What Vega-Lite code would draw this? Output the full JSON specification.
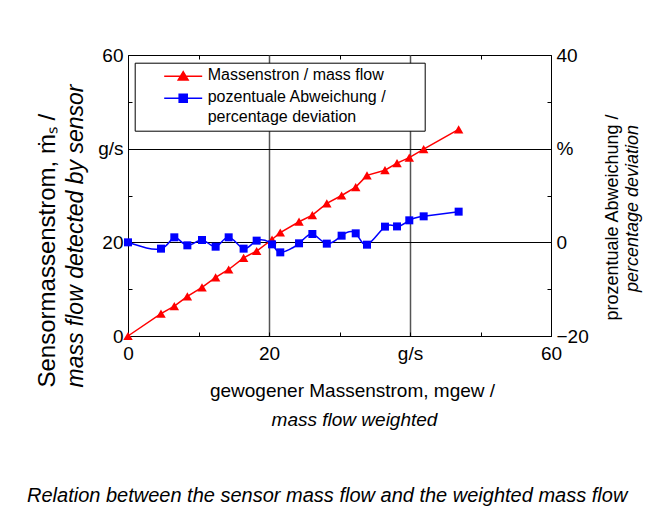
{
  "$schema": "https://vega.github.io/schema/vega-lite/v6.json",
  "width": 423,
  "height": 281,
  "autosize": {"type": "none"},
  "padding": {"left": 128, "top": 55, "right": 100, "bottom": 186},
  "background": "white",
  "title": {
    "text": "Relation between the sensor mass flow and the weighted mass flow",
    "orient": "bottom", "anchor": "start", "frame": "group", "dx": -101, "offset": 73,
    "fontSize": 20, "fontStyle": "italic", "fontWeight": "normal", "font": "Liberation Sans",
    "color": "black", "baseline": "alphabetic"
  },
  "data": {
    "values": [
      {"gewogen": 0, "sensor": 0, "abweichung": 0},
      {"gewogen": 4.68, "sensor": 4.77, "abweichung": -1.35},
      {"gewogen": 6.57, "sensor": 6.4, "abweichung": 1.07},
      {"gewogen": 8.42, "sensor": 8.47, "abweichung": -0.64},
      {"gewogen": 10.5, "sensor": 10.4, "abweichung": 0.5},
      {"gewogen": 12.43, "sensor": 12.5, "abweichung": -0.93},
      {"gewogen": 14.28, "sensor": 14.2, "abweichung": 1.07},
      {"gewogen": 16.4, "sensor": 16.7, "abweichung": -1.35},
      {"gewogen": 18.25, "sensor": 18.15, "abweichung": 0.36},
      {"gewogen": 20.43, "sensor": 20.6, "abweichung": -0.43},
      {"gewogen": 21.6, "sensor": 22.1, "abweichung": -2.14},
      {"gewogen": 24.26, "sensor": 24.4, "abweichung": -0.21},
      {"gewogen": 26.15, "sensor": 25.8, "abweichung": 1.78},
      {"gewogen": 28.2, "sensor": 28.3, "abweichung": -0.28},
      {"gewogen": 30.3, "sensor": 30.0, "abweichung": 1.42},
      {"gewogen": 32.3, "sensor": 31.8, "abweichung": 1.92},
      {"gewogen": 33.9, "sensor": 34.3, "abweichung": -0.5},
      {"gewogen": 36.45, "sensor": 35.4, "abweichung": 3.35},
      {"gewogen": 38.16, "sensor": 36.9, "abweichung": 3.4},
      {"gewogen": 39.9, "sensor": 38.1, "abweichung": 4.7},
      {"gewogen": 41.94, "sensor": 39.9, "abweichung": 5.55},
      {"gewogen": 46.9, "sensor": 44.1, "abweichung": 6.55}
    ]
  },
  "layer": [
    {
      "mark": {"type": "line", "color": "#ff0000", "strokeWidth": 1.5,
        "point": {"shape": "triangle-up", "size": 90, "filled": true, "color": "#ff0000", "opacity": 1}},
      "encoding": {
        "x": {"field": "gewogen", "type": "quantitative",
          "scale": {"domain": [0, 60], "nice": false, "zero": false},
          "axis": {"orient": "bottom", "values": [0, 10, 20, 30, 40, 50, 60],
            "labelExpr": "datum.value == 40 ? 'g/s' : (datum.value % 20 == 0 ? datum.label : '')",
            "tickSize": -4, "grid": true, "gridColor": "#555555", "gridWidth": 1.5,
            "gridOpacity": {"condition": {"test": "datum.value == 20 || datum.value == 40", "value": 1}, "value": 0},
            "labelFontSize": 19, "labelPadding": 12, "labelFlush": false, "labelOverlap": false,
            "title": "gewogener Massenstrom, mgew /", "titleFontSize": 19, "titleFontWeight": "normal",
            "titleX": 224, "titleY": 60, "titleAlign": "center", "titleBaseline": "alphabetic"}},
        "y": {"field": "sensor", "type": "quantitative",
          "scale": {"domain": [0, 60], "nice": false, "zero": false},
          "axis": {"orient": "left", "values": [0, 10, 20, 30, 40, 50, 60],
            "labelExpr": "datum.value == 40 ? 'g/s' : (datum.value % 20 == 0 ? datum.label : '')",
            "tickSize": -4, "grid": true, "gridColor": "#000000", "gridWidth": 1.2,
            "gridOpacity": {"condition": {"test": "datum.value == 20 || datum.value == 40", "value": 1}, "value": 0},
            "labelFontSize": 19, "labelPadding": 9, "labelFlush": false, "labelOverlap": false,
            "title": "Sensormassenstrom, ṁₛ /", "titleFontSize": 24, "titleFontWeight": "normal",
            "titleAngle": 270, "titleX": -81, "titleY": 332, "titleAlign": "left", "titleBaseline": "middle"}}
      }
    },
    {
      "mark": {"type": "line", "color": "#0000ff", "strokeWidth": 1.5, "interpolate": "natural",
        "point": {"shape": "square", "size": 64, "filled": true, "color": "#0000ff", "opacity": 1}},
      "encoding": {
        "x": {"field": "gewogen", "type": "quantitative",
          "scale": {"domain": [0, 60], "nice": false, "zero": false}, "axis": null},
        "y": {"field": "abweichung", "type": "quantitative",
          "scale": {"domain": [-20, 40], "nice": false, "zero": false},
          "axis": {"orient": "right", "values": [-20, -10, 0, 10, 20, 30, 40],
            "labelExpr": "datum.value == 20 ? '%' : (datum.value % 20 == 0 ? datum.label : '')",
            "tickSize": -4, "grid": false, "domainColor": "black",
            "labelFontSize": 19, "labelPadding": 9, "labelFlush": false, "labelOverlap": false,
            "title": "prozentuale Abweichung /", "titleFontSize": 18, "titleFontWeight": "normal",
            "titleAngle": 270, "titleX": 61, "titleY": 162, "titleAlign": "center", "titleBaseline": "middle"}}
      }
    },
    {
      "transform": [{"fold": ["sensor", "abweichung"], "as": ["serie", "wert"]}],
      "mark": {"type": "point", "opacity": 0, "filled": true},
      "encoding": {
        "x": {"field": "gewogen", "type": "quantitative",
          "scale": {"domain": [0, 60], "nice": false, "zero": false},
          "axis": {"orient": "bottom", "labels": false, "ticks": false, "domain": false, "grid": false,
            "title": "mass flow weighted", "titleFontStyle": "italic", "titleFontSize": 19, "titleFontWeight": "normal",
            "titleX": 226, "titleY": 89, "titleAlign": "center", "titleBaseline": "alphabetic"}},
        "y": {"field": "wert", "type": "quantitative",
          "scale": {"domain": [-20, 60], "nice": false, "zero": false},
          "axis": {"orient": "left", "labels": false, "ticks": false, "domain": false, "grid": false,
            "title": "mass flow detected by sensor", "titleFontStyle": "italic", "titleFontSize": 23, "titleFontWeight": "normal",
            "titleAngle": 270, "titleX": -53, "titleY": 332, "titleAlign": "left", "titleBaseline": "middle"}},
        "color": {"field": "serie", "type": "nominal",
          "scale": {"domain": ["sensor", "abweichung"], "range": ["#ff0000", "#0000ff"]},
          "legend": {"orient": "none", "legendX": 6.7, "legendY": 7.7, "title": null,
            "strokeColor": "black", "fillColor": "white", "padding": 5, "cornerRadius": 0,
            "symbolSize": 231, "symbolOffset": 35, "labelOffset": 16, "symbolOpacity": 1, "symbolStrokeWidth": 1.5,
            "labelFont": "Liberation Sans", "labelFontSize": 16, "labelColor": "black", "labelLimit": 400,
            "labelBaseline": "top", "rowPadding": 5,
            "labelExpr": "datum.value == 'sensor' ? 'Massenstron / mass flow' : ['pozentuale Abweichung /', 'percentage deviation']",
            "encode": {
              "symbols": {"update": {"stroke": {"scale": "color", "field": "value"}, "fill": {"scale": "color", "field": "value"}, "strokeWidth": {"value": 1.5}, "opacity": {"value": 1}}},
              "labels": {"update": {"lineHeight": {"value": 20}, "dy": {"value": -9}}}
            }}},
        "shape": {"field": "serie", "type": "nominal",
          "scale": {"domain": ["sensor", "abweichung"],
            "range": ["M-2.5,0H2.5M-0.65,0.5L0,-0.6L0.65,0.5ZM30.6,0L30.6,0", "M-2.5,0H2.5M-0.53,-0.53H0.53V0.53H-0.53ZM30.6,0L30.6,0"]},
          "legend": {"orient": "none", "legendX": 6.7, "legendY": 7.7, "title": null,
            "strokeColor": "black", "fillColor": "white", "padding": 5, "cornerRadius": 0,
            "symbolSize": 231, "symbolOffset": 35, "labelOffset": 16, "symbolOpacity": 1, "symbolStrokeWidth": 1.5,
            "labelFont": "Liberation Sans", "labelFontSize": 16, "labelColor": "black", "labelLimit": 400,
            "labelBaseline": "top", "rowPadding": 5,
            "labelExpr": "datum.value == 'sensor' ? 'Massenstron / mass flow' : ['pozentuale Abweichung /', 'percentage deviation']"}}
      }
    },
    {
      "mark": {"type": "point", "opacity": 0},
      "encoding": {
        "x": {"field": "gewogen", "type": "quantitative",
          "scale": {"domain": [0, 60], "nice": false, "zero": false},
          "axis": {"orient": "top", "values": [10, 30, 50], "labels": false, "tickSize": -4, "domain": false, "grid": false, "title": null}},
        "y": {"field": "abweichung", "type": "quantitative",
          "scale": {"domain": [-20, 40], "nice": false, "zero": false},
          "axis": {"orient": "right", "labels": false, "ticks": false, "domain": false, "grid": false,
            "title": "percentage deviation", "titleFontStyle": "italic", "titleFontSize": 18, "titleFontWeight": "normal",
            "titleAngle": 270, "titleX": 81, "titleY": 153, "titleAlign": "center", "titleBaseline": "middle"}}
      }
    }
  ],
  "resolve": {
    "scale": {"x": "independent", "y": "independent"},
    "axis": {"x": "independent", "y": "independent"}
  },
  "config": {
    "font": "Liberation Sans",
    "view": {"stroke": "black", "strokeWidth": 1},
    "axis": {"labelColor": "black", "titleColor": "black", "domainColor": "black", "tickColor": "black", "tickWidth": 1, "domainWidth": 1}
  }
}
